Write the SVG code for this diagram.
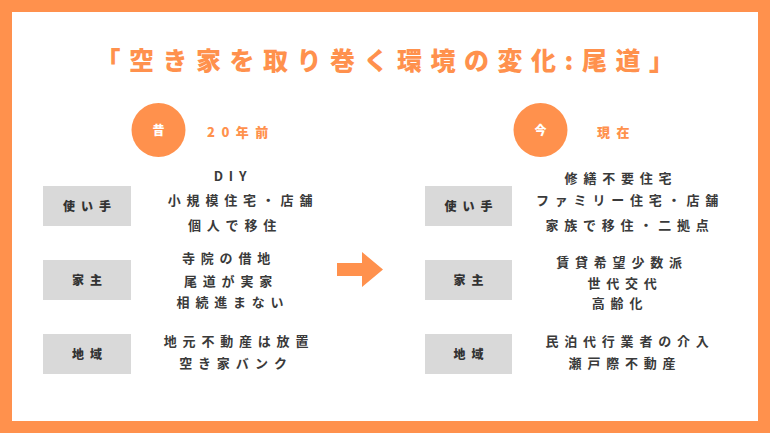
<svg xmlns="http://www.w3.org/2000/svg" width="770" height="433" viewBox="0 0 770 433">
<style>
text{font-family:"Noto Sans CJK JP","Noto Sans",sans-serif;font-weight:700}
.title{font-size:25px;fill:#FF914D;letter-spacing:8.5px;text-anchor:middle;font-weight:900}
.head{font-size:13px;fill:#FF914D;letter-spacing:6.5px;font-weight:900}
.circ{fill:#FF914D}
.ctext{font-size:12px;fill:#fff;text-anchor:middle;font-weight:900}
.box{fill:#D9D9D9}
.lbl{font-size:12px;fill:#333;letter-spacing:6px;text-anchor:middle;font-weight:900}
.body{font-size:13px;fill:#3a3a3a;letter-spacing:5.8px;text-anchor:middle}
</style>
<rect x="0" y="0" width="770" height="433" fill="#FF914D"/>
<rect x="12" y="12" width="746" height="409" fill="#fff"/>
<text class="title" x="389" y="70">「空き家を取り巻く環境の変化:尾道」</text>

<g id="past-header">
<circle class="circ" cx="158.5" cy="130" r="27"/>
<text class="ctext" x="158.5" y="134.5">昔</text>
<text class="head" x="207" y="136.5">20年前</text>
</g>
<g id="now-header">
<circle class="circ" cx="540.5" cy="130" r="27"/>
<text class="ctext" x="540.5" y="134.5">今</text>
<text class="head" x="597" y="136.5">現在</text>
</g>

<g id="past-user">
<rect class="box" x="43" y="186" width="88" height="40"/>
<text class="lbl" x="90" y="210.5">使い手</text>
<text class="body" x="233" y="181">DIY</text>
<text class="body" x="243" y="205">小規模住宅・店舗</text>
<text class="body" x="235" y="229.5">個人で移住</text>
</g>
<g id="past-owner">
<rect class="box" x="43" y="260" width="88" height="40"/>
<text class="lbl" x="90" y="284.5">家主</text>
<text class="body" x="229" y="262.5">寺院の借地</text>
<text class="body" x="231" y="285.5">尾道が実家</text>
<text class="body" x="233" y="306.5">相続進まない</text>
</g>
<g id="past-area">
<rect class="box" x="43" y="334" width="88" height="40"/>
<text class="lbl" x="90" y="358.5">地域</text>
<text class="body" x="239" y="345.5">地元不動産は放置</text>
<text class="body" x="236" y="367.5">空き家バンク</text>
</g>

<g id="now-user">
<rect class="box" x="425" y="186" width="87" height="40"/>
<text class="lbl" x="471.5" y="210.5">使い手</text>
<text class="body" x="621" y="182.5">修繕不要住宅</text>
<text class="body" x="630" y="205">ファミリー住宅・店舗</text>
<text class="body" x="630" y="229.5">家族で移住・二拠点</text>
</g>
<g id="now-owner">
<rect class="box" x="425" y="260" width="87" height="40"/>
<text class="lbl" x="471.5" y="284.5">家主</text>
<text class="body" x="622" y="266.5">賃貸希望少数派</text>
<text class="body" x="625" y="287.5">世代交代</text>
<text class="body" x="620" y="307.5">高齢化</text>
</g>
<g id="now-area">
<rect class="box" x="425" y="334" width="87" height="40"/>
<text class="lbl" x="471.5" y="358.5">地域</text>
<text class="body" x="630" y="345.5">民泊代行業者の介入</text>
<text class="body" x="625" y="367.5">瀬戸際不動産</text>
</g>

<g id="connectors">
<polygon fill="#FF914D" points="337,263 362,263 362,252 383,269.5 362,287 362,276 337,276"/>
</g>
</svg>
